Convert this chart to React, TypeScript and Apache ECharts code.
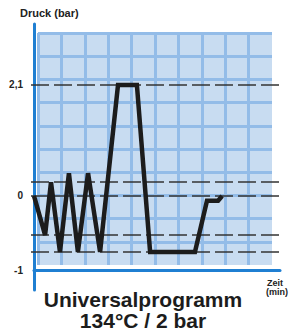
import React, { useEffect, useRef } from "react";
import * as echarts from "echarts";

// time (schematic grid units) and pressure (bar)
const timeMin = [0, 0.47, 0.72, 1.1, 1.48, 1.86, 2.29, 2.8, 3.56, 4.36, 4.92, 6.82, 7.33, 7.8, 7.97];
const pressureBar = [0, -0.74, 0.26, -1.06, 0.43, -1.06, 0.43, -1.06, 2.1, 2.1, -1.06, -1.06, -0.09, -0.09, 0];
const refLines = [2.1, 0.26, 0, -0.74, -1.06];
const yTickValues = [-1.4, 0, 2.1];
const yTickLabels = ["-1", "0", "2,1"];

const Y_MIN = -1.4;
const Y_MAX = 3.1;
const AXIS_BLUE = "#1f7fd2";
const FONT = "Liberation Sans, Arial, Helvetica, sans-serif";

export default function App() {
  const ref = useRef<HTMLDivElement>(null);
  useEffect(() => {
    document.body.style.margin = "0";
    const chart = echarts.init(ref.current!, null, { renderer: "svg" });
    const data = timeMin.map((t, i) => [t, pressureBar[i]]);
    chart.setOption({
      animation: false,
      backgroundColor: "#ffffff",
      grid: [
        // 0: blue background with cells
        { left: 38, top: 33, width: 234, height: 232, show: true, backgroundColor: "#c8dcf1", borderWidth: 0 },
        // 1: data grid
        { left: 34, top: 32, width: 236, height: 238 },
        // 2: dashed reference lines
        { left: 31, top: 32, width: 249, height: 238 },
        // 3: y axis line
        { left: 34, top: 24, width: 246, height: 266 },
        // 4: x axis line
        { left: 34, top: 32, width: 246, height: 238 },
      ],
      xAxis: [
        {
          gridIndex: 0, type: "value", min: 0, max: 10, interval: 1,
          axisLine: { show: false }, axisTick: { show: false }, axisLabel: { show: false },
          splitLine: { show: true, showMinLine: true, showMaxLine: false, lineStyle: { color: "#93bce8", width: 3 } },
        },
        {
          gridIndex: 1, type: "value", min: 0, max: 10,
          axisLine: { show: false }, axisTick: { show: false }, axisLabel: { show: false }, splitLine: { show: false },
        },
        {
          gridIndex: 2, type: "value", min: 0, max: 1,
          axisLine: { show: false }, axisTick: { show: false }, axisLabel: { show: false }, splitLine: { show: false },
        },
        {
          gridIndex: 3, type: "value", min: 0, max: 1, show: false,
        },
        {
          gridIndex: 4, type: "value", min: 0, max: 1,
          axisLine: { show: true, lineStyle: { color: AXIS_BLUE, width: 3 } },
          axisTick: { show: false }, axisLabel: { show: false }, splitLine: { show: false },
        },
      ],
      yAxis: [
        {
          gridIndex: 0, type: "value", min: 0, max: 10, interval: 1,
          axisLine: { show: false }, axisTick: { show: false }, axisLabel: { show: false },
          splitLine: { show: true, showMinLine: false, showMaxLine: true, lineStyle: { color: "#93bce8", width: 3 } },
        },
        {
          gridIndex: 1, type: "value", min: Y_MIN, max: Y_MAX,
          axisLine: { show: false }, axisTick: { show: false }, splitLine: { show: false },
          axisLabel: {
            show: true,
            customValues: yTickValues,
            formatter: (v: number) => {
              const i = yTickValues.findIndex((t) => Math.abs(t - v) < 1e-6);
              return i >= 0 ? yTickLabels[i] : "";
            },
            color: "#222",
            fontWeight: "bold",
            fontSize: 10,
            fontFamily: FONT,
            margin: 11,
          },
        },
        {
          gridIndex: 2, type: "value", min: Y_MIN, max: Y_MAX,
          axisLine: { show: false }, axisTick: { show: false }, axisLabel: { show: false }, splitLine: { show: false },
        },
        {
          gridIndex: 3, type: "value", min: 0, max: 1,
          axisLine: { show: true, lineStyle: { color: AXIS_BLUE, width: 3 } },
          axisTick: { show: false }, axisLabel: { show: false }, splitLine: { show: false },
        },
        {
          gridIndex: 4, type: "value", min: 0, max: 1, show: false,
        },
      ],
      series: [
        {
          type: "line",
          xAxisIndex: 2,
          yAxisIndex: 2,
          data: [],
          silent: true,
          markLine: {
            silent: true,
            symbol: "none",
            label: { show: false },
            lineStyle: { color: "#333333", width: 1.5, type: [18, 5] },
            data: refLines.map((v) => ({ yAxis: v })),
          },
        },
        {
          type: "line",
          xAxisIndex: 1,
          yAxisIndex: 1,
          data,
          showSymbol: false,
          symbol: "none",
          lineStyle: { color: "#1c1c1c", width: 4.5, join: "miter", cap: "butt" },
          z: 5,
        },
      ],
      graphic: [
        { type: "text", x: 20, y: 13, style: { text: "Druck (bar)", font: `bold 11px ${FONT}`, fill: "#222", verticalAlign: "middle" } },
        { type: "text", x: 267, y: 283, style: { text: "Zeit", font: `bold 9px ${FONT}`, fill: "#222", verticalAlign: "middle" } },
        { type: "text", x: 266, y: 292, style: { text: "(min)", font: `bold 9px ${FONT}`, fill: "#222", verticalAlign: "middle" } },
        { type: "text", x: 143, y: 299, style: { text: "Universalprogramm", font: `bold 21px ${FONT}`, fill: "#1c1c1c", align: "center", verticalAlign: "middle" } },
        { type: "text", x: 143, y: 320, style: { text: "134°C / 2 bar", font: `bold 21px ${FONT}`, fill: "#1c1c1c", align: "center", verticalAlign: "middle" } },
      ],
    });
    return () => chart.dispose();
  }, []);
  return <div ref={ref} style={{ position: "absolute", left: 0, top: 0, width: 291, height: 331 }} />;
}
